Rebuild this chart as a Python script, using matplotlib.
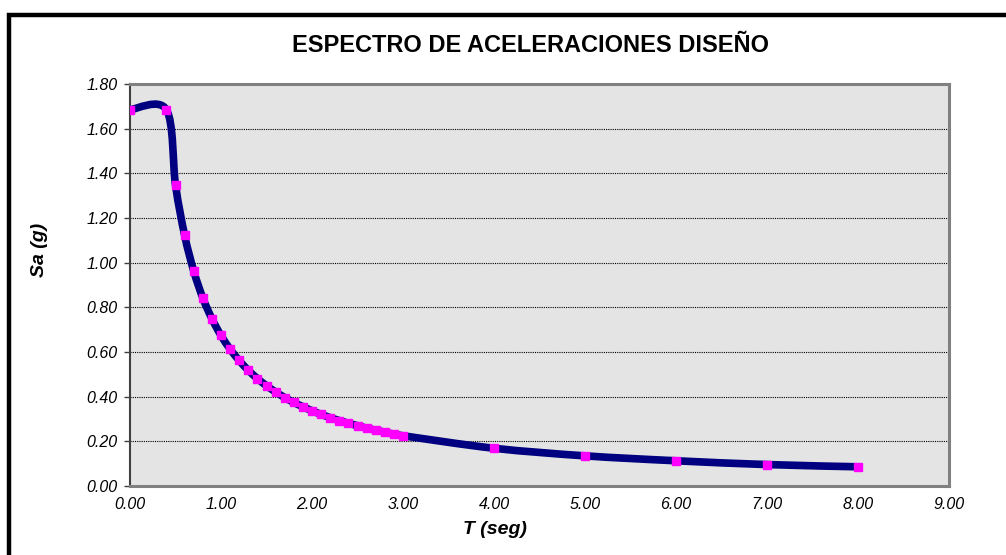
import numpy as np
import matplotlib
matplotlib.use("Agg")
import matplotlib.pyplot as plt
from matplotlib.path import Path
from matplotlib.patches import PathPatch, Rectangle

# periodo (s) y aceleracion espectral (g)
T = [0.0, 0.4, 0.5, 0.6, 0.7, 0.8, 0.9, 1.0, 1.1, 1.2, 1.3, 1.4, 1.5, 1.6,
     1.7, 1.8, 1.9, 2.0, 2.1, 2.2, 2.3, 2.4, 2.5, 2.6, 2.7, 2.8, 2.9, 3.0,
     4.0, 5.0, 6.0, 7.0, 8.0]
Sa = [1.685, 1.685, 1.348, 1.123, 0.963, 0.842, 0.749, 0.674, 0.613, 0.562,
      0.518, 0.481, 0.449, 0.421, 0.396, 0.374, 0.355, 0.337, 0.321, 0.306,
      0.293, 0.281, 0.270, 0.259, 0.250, 0.241, 0.232, 0.225,
      0.169, 0.135, 0.113, 0.096, 0.086]

titulo = "ESPECTRO DE ACELERACIONES DISEÑO"
xlab = "T (seg)"
ylab = "Sa (g)"
xticks = np.arange(0, 9.01, 1.0)
yticks = np.arange(0, 1.81, 0.2)

plt.rcParams['font.family'] = ['Liberation Sans', 'DejaVu Sans']

fig = plt.figure(figsize=(10.06, 5.55), dpi=100)
fig.patch.set_facecolor("white")

# marco negro exterior (cortado a la derecha y abajo)
fig.patches.append(Rectangle((9 / 1006, -0.05), 1.1, 1 - 15 / 555 + 0.05,
                             transform=fig.transFigure, fill=False,
                             edgecolor="black", linewidth=3.2))

ax = fig.add_axes([130 / 1006, 69 / 555, 819 / 1006, 402 / 555])
ax.set_facecolor("#e4e4e4")


def suavizar(x, y):
    # curva suave tipo Excel (Bezier Catmull-Rom entre los puntos)
    p = np.column_stack([x, y])
    verts = [p[0]]
    codes = [Path.MOVETO]
    n = len(p)
    for i in range(n - 1):
        p0 = p[max(i - 1, 0)]
        p1 = p[i]
        p2 = p[i + 1]
        p3 = p[min(i + 2, n - 1)]
        verts += [p1 + (p2 - p0) / 6, p2 - (p3 - p1) / 6, p2]
        codes += [Path.CURVE4] * 3
    return Path(verts, codes)


ax.add_patch(PathPatch(suavizar(T, Sa), facecolor="none", edgecolor="#000080",
                       linewidth=5.5, capstyle="round", joinstyle="round",
                       zorder=3))
ax.plot(T, Sa, linestyle="none", marker="s", markersize=5.4,
        markerfacecolor="#ff00ff", markeredgecolor="#ff00ff", zorder=4)

ax.set_xlim(0, 9)
ax.set_ylim(0, 1.8)
ax.set_xticks(xticks)
ax.set_yticks(yticks)
ax.set_xticklabels(["%.2f" % v for v in xticks], fontsize=11.5, style="italic")
ax.set_yticklabels(["%.2f" % v for v in yticks], fontsize=11.5, style="italic")
ax.tick_params(axis="x", length=0, pad=8)
ax.tick_params(axis="y", length=4, width=1, color="#404040", pad=5)

ax.yaxis.grid(True, color="black", linestyle=(0, (1, 1)), linewidth=0.8)
ax.set_axisbelow(True)

for s in ["top", "right", "bottom"]:
    ax.spines[s].set_color("#808080")
    ax.spines[s].set_linewidth(2.2)
ax.spines["left"].set_color("#404040")
ax.spines["left"].set_linewidth(1.5)

fig.text(495 / 1006, 1 - 530 / 555, xlab, ha="center", va="center",
         fontsize=14, fontweight="bold", style="italic")
fig.text(39 / 1006, 1 - 250 / 555, ylab, ha="center", va="center",
         rotation=90, fontsize=14, fontweight="bold", style="italic")

fig.text(530 / 1006, 1 - 46 / 555, titulo, ha="center", va="center",
         fontsize=17, fontweight="bold")

fig.savefig("out.png", dpi=100)
